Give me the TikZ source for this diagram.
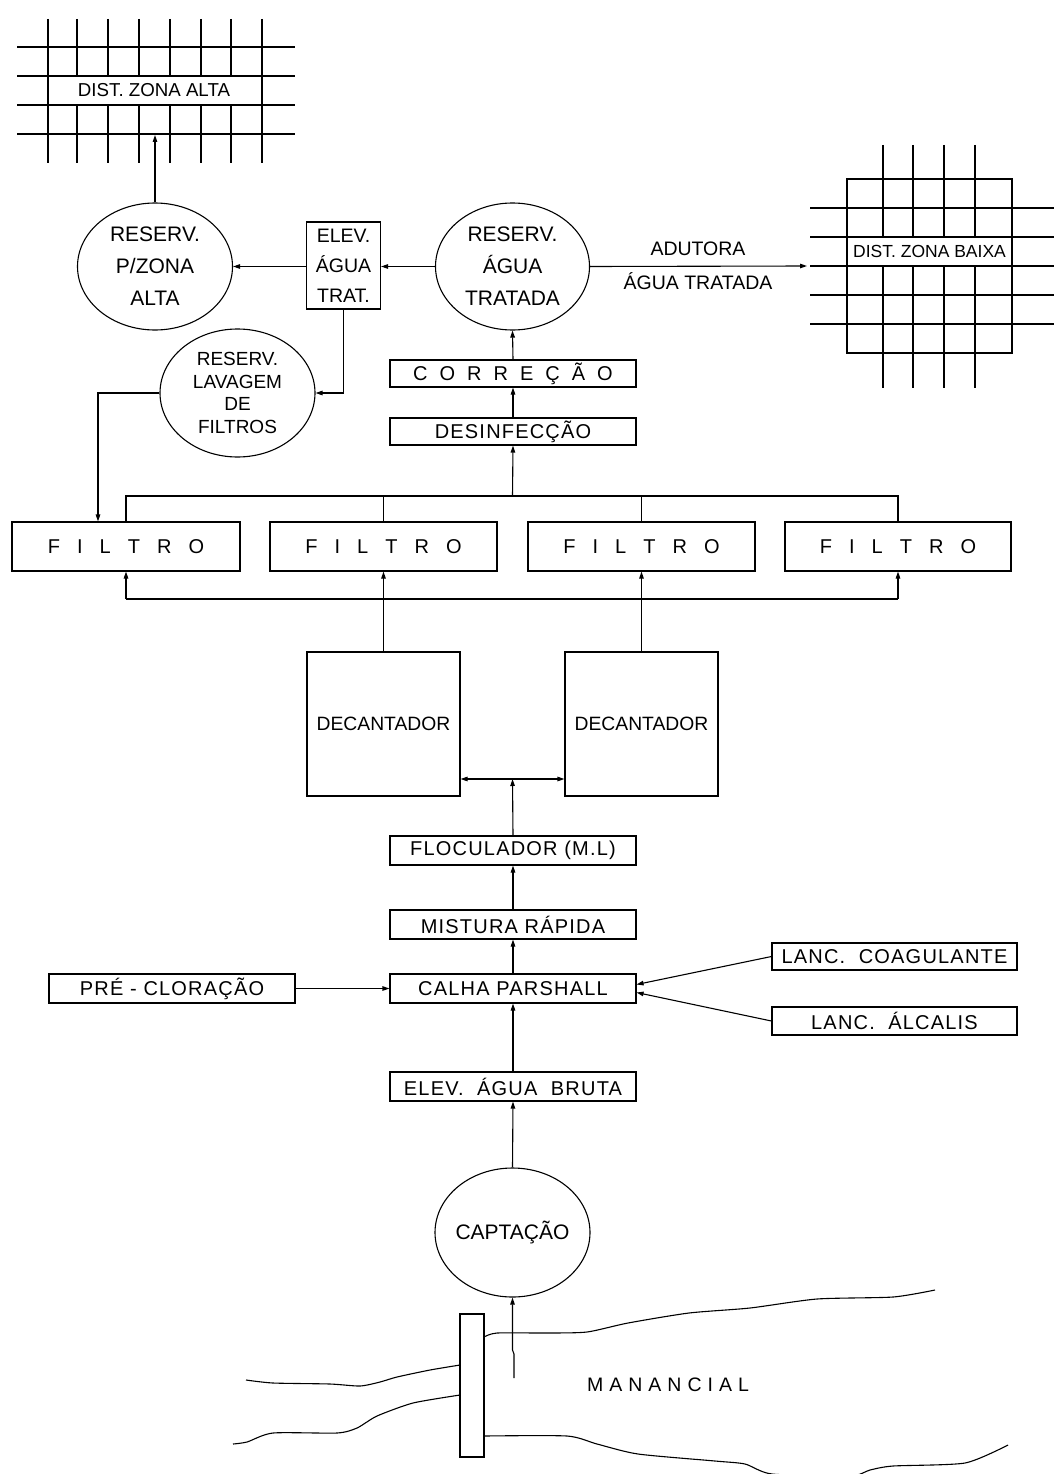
\documentclass[tikz,border=0pt]{standalone}
\usepackage{fontspec}
\setmainfont{Liberation Sans}
\newfontfamily\boxfont{Liberation Sans}[LetterSpace=6]
\usetikzlibrary{shapes.geometric,arrows.meta,calc}
\begin{document}
\begin{tikzpicture}[x=1pt,y=-1pt,
  line width=1.1pt,
  every node/.style={font=\fontsize{19}{23}\selectfont, inner sep=0pt},
  box/.style={draw, rectangle, font=\boxfont\fontsize{20}{24}\selectfont},
  res/.style={draw, ellipse, align=center, minimum width=155, minimum height=127,
              font=\fontsize{21}{32}\selectfont},
  lbl/.style={fill=white, minimum height=27, font=\fontsize{17.5}{20}\selectfont},
  flow/.style={-{Triangle[length=7pt,width=4.5pt]}},
  flowboth/.style={{Triangle[length=7pt,width=4.5pt]}-{Triangle[length=7pt,width=4.5pt]}},
  gridline/.style={line width=1.1pt}
]
\useasboundingbox (0,0) rectangle (1054,1474);

% ---------- upper distribution zone grid
\foreach \x in {48,77,108,139,170,201,231,262} \draw[gridline] (\x,19) -- (\x,163);
\foreach \y in {47,76,105,134} \draw[gridline] (17,\y) -- (295,\y);
\node[lbl, minimum width=166, font=\fontsize{18.7}{20}\selectfont] (za) at (154,90.5) {DIST. ZONA ALTA};
\coordinate (zatgt) at (155,135);

% ---------- lower distribution zone grid
\foreach \x in {883,913,944,975} \draw[gridline] (\x,145) -- (\x,388);
\foreach \y in {208,237,266,295,324} \draw[gridline] (810,\y) -- (1054,\y);
\node[lbl, minimum width=162] (zb) at (929.5,251.5) {DIST. ZONA BAIXA};
\draw[gridline] (847,179) rectangle (1012,353);
\coordinate (zbtgt) at (807,266);

% ---------- reservoirs
\node[res] (rpz) at (155,266.5) {RESERV.\\P/ZONA\\ALTA};
\node[box, minimum width=74, minimum height=87, align=center,
      font=\fontsize{19.5}{30}\selectfont] (elev) at (343.5,265.5) {ELEV.\\ÁGUA\\TRAT.};
\node[res, minimum width=154] (rat) at (512.5,266.5) {RESERV.\\ÁGUA\\TRATADA};
\node[res, minimum height=128, font=\fontsize{19}{22.5}\selectfont] (lav) at (237.5,393)
     {RESERV.\\LAVAGEM\\DE\\FILTROS};

\node[font=\fontsize{19.5}{22}\selectfont] (adut) at (698,249) {ADUTORA};
\node[font=\fontsize{19.5}{22}\selectfont] (aguat) at (698,281) {ÁGUA TRATADA};

% ---------- treatment boxes
\node[box, minimum width=246, minimum height=27] (corr) at (513,373.5)
  {C\hspace{12pt}O\hspace{12pt}R\hspace{12pt}R\hspace{12pt}E\hspace{12pt}Ç\hspace{12pt}Ã\hspace{12pt}O};
\node[box, minimum width=246, minimum height=27] (desinf) at (513,431.5) {DESINFECÇÃO};

\node[box, minimum width=228, minimum height=49] (f1) at (126,546.5)
  {F\hspace{17pt}I\hspace{17pt}L\hspace{17pt}T\hspace{17pt}R\hspace{17pt}O};
\node[box, minimum width=227, minimum height=49] (f2) at (383.5,546.5)
  {F\hspace{17pt}I\hspace{17pt}L\hspace{17pt}T\hspace{17pt}R\hspace{17pt}O};
\node[box, minimum width=227, minimum height=49] (f3) at (641.5,546.5)
  {F\hspace{17pt}I\hspace{17pt}L\hspace{17pt}T\hspace{17pt}R\hspace{17pt}O};
\node[box, minimum width=226, minimum height=49] (f4) at (898,546.5)
  {F\hspace{17pt}I\hspace{17pt}L\hspace{17pt}T\hspace{17pt}R\hspace{17pt}O};

\node[box, minimum width=153, minimum height=144, font=\fontsize{19.3}{22}\selectfont] (d1) at (383.5,724) {DECANTADOR};
\node[box, minimum width=153, minimum height=144, font=\fontsize{19.3}{22}\selectfont] (d2) at (641.5,724) {DECANTADOR};

\node[box, minimum width=246, minimum height=29] (floc) at (513,850.5) {FLOCULADOR (M.L)};
\node[box, minimum width=246, minimum height=29] (mist) at (513,924.5) {MISTURA RÁPIDA};
\node[box, minimum width=246, minimum height=29] (calha) at (513,988.5) {CALHA PARSHALL};
\node[box, minimum width=246, minimum height=29] (pre) at (172,988.5) {PRÉ - CLORAÇÃO};
\node[box, minimum width=245, minimum height=27] (coag) at (894.5,956.5) {LANC.\ \ COAGULANTE};
\node[box, minimum width=245, minimum height=28] (alc) at (894.5,1021) {LANC.\ \ ÁLCALIS};
\node[box, minimum width=246, minimum height=29] (elevb) at (513,1086.5) {ELEV.\ \ ÁGUA\ \ BRUTA};
\node[res, minimum height=129, inner xsep=-10pt, font=\fontsize{21}{24}\selectfont] (capt) at (512.5,1232.5) {CAPTAÇÃO};

% ---------- connectors (top part)
\draw[flow] (rpz.north) -- (zatgt);
\draw[flow] (rat.west) -- (rat.west -| elev.east);
\draw[flow] (rpz.east -| elev.west) -- (rpz.east);
\draw[flow] (rat.east) -- (zbtgt);
\draw[flow] (corr.north) -- (rat.south);
\draw[flow] (desinf.north) -- (corr.south);
\draw[flow] (elev.south) |- (lav.east);
\draw[flow] (lav.west) -| ([xshift=-28pt]f1.north);

% filters collector
\coordinate (top) at (512.5,496);
\draw (f1.north) |- (top) -| (f4.north);
\draw (f2.north) -- (f2.north |- top);
\draw (f3.north) -- (f3.north |- top);
\draw[flow] (top) -- (desinf.south);

% filters distribution
\coordinate (bot) at (512.5,599);
\draw (bot -| f1.south) -- (bot -| f4.south);
\draw[flow] (bot -| f1.south) -- (f1.south);
\draw[flow] (bot -| f4.south) -- (f4.south);
\draw[flow] (d1.north) -- (f2.south);
\draw[flow] (d2.north) -- (f3.south);

% decanters
\coordinate (dm) at (512.5,779);
\draw[flowboth] (dm -| d1.east) -- (dm -| d2.west);
\draw[flow] (floc.north) -- (dm);
\draw[flow] (mist.north) -- (floc.south);
\draw[flow] (calha.north) -- (mist.south);
\draw[flow] (pre.east) -- (calha.west);
\draw[flow] (coag.west) -- ([yshift=4pt]calha.east);
\draw[flow] (alc.west) -- ([yshift=-4pt]calha.east);
\draw[flow] (elevb.north) -- (calha.south);
\draw[flow] (capt.north) -- (elevb.south);

% ---------- source (manancial)
\draw (460,1314) rectangle (484,1457);
\draw plot[smooth, tension=0.4] coordinates {(484,1337) (497,1333) (547,1333) (587,1332)
  (628,1323) (689,1313) (750,1308) (817,1299) (893,1297) (935,1290)};
\draw plot[smooth, tension=0.4] coordinates {(484,1436) (567,1436) (597,1444) (638,1454)
  (715,1461) (745,1464) (772,1474) (850,1476) (870,1470) (893,1466) (965,1463) (1008,1445)};
\draw plot[smooth, tension=0.4] coordinates {(246,1380) (273,1383) (330,1384) (360,1386)
  (380,1382) (397,1377) (430,1370) (460,1365)};
\draw plot[smooth, tension=0.4] coordinates {(233,1444) (247,1442) (273,1433) (337,1433)
  (357,1428) (377,1416) (413,1403) (460,1395)};
\node[font=\fontsize{19.5}{22}\selectfont] (manan) at (668,1385)
  {M\hspace{6pt}A\hspace{6pt}N\hspace{6pt}A\hspace{6pt}N\hspace{6pt}C\hspace{6pt}I\hspace{6pt}A\hspace{6pt}L};
\coordinate (src) at (514,1378);
\draw[flow] (src) -- ++(0,-24) -- ++(-1.5,-4) -- (capt.south);
\end{tikzpicture}
\end{document}
